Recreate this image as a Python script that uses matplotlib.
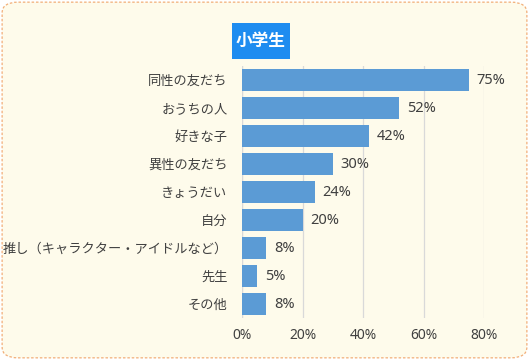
import matplotlib.pyplot as plt
from matplotlib.patches import FancyBboxPatch, Rectangle

plt.rcParams['font.family'] = ['Noto Sans CJK JP', 'DejaVu Sans']

categories = ['同性の友だち', 'おうちの人', '好きな子', '異性の友だち', 'きょうだい',
              '自分', '推し（キャラクター・アイドルなど）', '先生', 'その他']
values = [75, 52, 42, 30, 24, 20, 8, 5, 8]
xticks = [0, 20, 40, 60, 80]
title = '小学生'

bg = '#FEFBEB'
bar_color = '#5B9BD5'
text_color = '#404040'
num_font = ['Noto Sans', 'DejaVu Sans']

W, H = 529, 360
fig = plt.figure(figsize=(W / 100, H / 100), dpi=100)
fig.patch.set_facecolor('white')
border = FancyBboxPatch((0.004, 0.006), 0.992, 0.988,
                        boxstyle='round,pad=0,rounding_size=0.03',
                        transform=fig.transFigure, facecolor=bg,
                        edgecolor='#F2AE78', linestyle=(0, (2, 1.5)), linewidth=0.9,
                        zorder=-10)
fig.patches.append(border)

ax = fig.add_axes([242 / W, 1 - 318 / H, 242 / W, 252 / H])
ax.set_facecolor('none')
y = list(range(len(categories)))
ax.barh(y, values, height=0.78, color=bar_color, zorder=3)
for yi, v in zip(y, values):
    ax.text(v + 2.6, yi, f'{v}%', va='center', ha='left', fontsize=10.5,
            color=text_color, family=num_font)

ax.set_xlim(0, 80)
ax.set_ylim(len(categories) - 0.5, -0.5)
ax.set_yticks(y)
ax.set_yticklabels(categories, fontsize=9.5, color=text_color)
ax.set_xticks(xticks)
ax.set_xticklabels([f'{t}%' for t in xticks], fontsize=10, color=text_color,
                   family=num_font)
ax.tick_params(length=0)
ax.tick_params(axis='x', pad=7)
ax.tick_params(axis='y', pad=10.5)
ax.grid(axis='x', color='#D9D9D9', linewidth=0.9, zorder=0)
for s in ax.spines.values():
    s.set_visible(False)
ax.axvline(0, color='#D9D9D9', linewidth=0.9, zorder=1)

# title badge
fig.patches.append(Rectangle((232 / W, 1 - 58.5 / H), 57.5 / W, 36 / H,
                             transform=fig.transFigure, facecolor='#1E8CF0',
                             edgecolor='none', zorder=-5))
fig.text(261 / W, 1 - 41 / H, title, ha='center', va='center', fontsize=12,
         fontweight='bold', color='white')

fig.savefig('out.png', dpi=100, facecolor=fig.get_facecolor())
